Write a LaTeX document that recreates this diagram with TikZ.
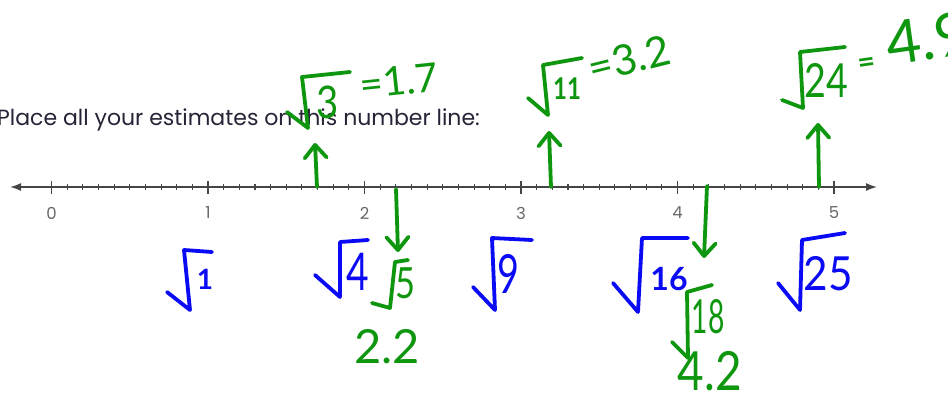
\documentclass[tikz,border=0pt]{standalone}
\usepackage{fontspec}
\setmainfont{Poppins}
\newfontfamily\handfont{Lato}
\usetikzlibrary{arrows.meta}
\definecolor{pen}{RGB}{15,150,15}
\definecolor{ink}{RGB}{10,10,245}
\definecolor{lineg}{RGB}{70,70,70}
\definecolor{labg}{RGB}{105,105,105}
\definecolor{txt}{RGB}{40,35,55}
\begin{document}
\begin{tikzpicture}[x=1pt,y=-1pt,
  axis/.style={draw=lineg,line width=1.6pt},
  majortick/.style={draw=lineg,line width=1.5pt},
  minortick/.style={draw=lineg,line width=1.1pt},
  axlabel/.style={text=labg,inner sep=0pt,font=\fontsize{16.5}{16.5}\selectfont},
  hw/.style={line width=3.8pt,line cap=round,line join=round},
  gpen/.style={hw,draw=pen},
  bpen/.style={hw,draw=ink},
  gtxt/.style={text=pen,inner sep=0pt},
  btxt/.style={text=ink,inner sep=0pt},
  hsize/.style={font=\handfont\bfseries\fontsize{#1}{#1}\selectfont},
  hsizer/.style={font=\handfont\fontsize{#1}{#1}\selectfont},
  garrow/.style={gpen,-{Straight Barb[length=13pt,width=22pt,round]}}
]
\useasboundingbox (0,0) rectangle (948,394);
\fill[white] (0,0) rectangle (948,394);

% heading
\node[anchor=base west,inner sep=0pt,text=txt,font=\fontsize{22}{22}\selectfont] (title) at (-3,125) {Place all your estimates on this number line:};

% number line
\coordinate (lend) at (10,187);
\coordinate (rend) at (877,187);
\draw[axis,{Latex[length=11pt,width=8pt]}-{Latex[length=11pt,width=8pt]}] (lend) -- (rend);
\foreach \i in {1,...,49}{
  \draw[minortick] ({51.5+15.65*\i},184) -- ({51.5+15.65*\i},190);
}
\foreach \k in {0,...,5}{
  \draw[majortick] ({51.5+156.5*\k},181) -- ({51.5+156.5*\k},194);
  \node[axlabel] (n\k) at ({51.5+156.5*\k},213) {\k};
}

% blue radicals
\draw[bpen] (167,292) -- (190,310) -- (184,250) -- (212,252);
\node[btxt,hsize=28] (b1) at (205,279) {1};
\draw[bpen] (315,275) -- (340,297) -- (340,242) -- (368,240);
\node[btxt,hsizer=52,xscale=0.75] (b4) at (358,272) {4};
\draw[bpen] (473,287) -- (495,310) -- (492,238) -- (532,240);
\node[btxt,hsizer=54,xscale=0.7] (b9) at (508,274) {9};
\draw[bpen] (613,283) -- (638,312) -- (642,238) -- (688,238);
\node[btxt,hsize=32] (b16) at (669,279) {16};
\draw[bpen] (778,283) -- (800,310) -- (802,240) -- (845,233);
\node[btxt,hsizer=47,xscale=0.9] (b25) at (828,274) {25};

% green arrows
\coordinate (a1s) at (317,187); \coordinate (a1e) at (315,143);
\coordinate (a2s) at (396,189); \coordinate (a2e) at (398,252);
\coordinate (a3s) at (551,187); \coordinate (a3e) at (549,131);
\coordinate (a4s) at (707,186); \coordinate (a4e) at (704,258);
\coordinate (a5s) at (819,187); \coordinate (a5e) at (818,123);
\draw[garrow] (a1s) -- (a1e);
\draw[garrow] (a2s) -- (a2e);
\draw[garrow] (a3s) -- (a3e);
\draw[garrow] (a4s) -- (a4e);
\draw[garrow] (a5s) -- (a5e);

% green: sqrt 3 = 1.7
\draw[gpen] (287,112) -- (308,128) -- (302,77) -- (350,72);
\node[gtxt,hsizer=45,xscale=0.85] (g3) at (328,102) {3};
\node[gtxt,hsizer=40,rotate=6] (g17) at (399,81) {=1.7};

% green: sqrt 11 = 3.2
\draw[gpen] (528,98) -- (548,115) -- (543,65) -- (582,58);
\node[gtxt,hsize=30,xscale=0.8] (g11) at (567,89) {11};
\node[gtxt,hsizer=42,rotate=14] (g32) at (629,59) {=3.2};

% green: sqrt 24 = 4.9
\draw[gpen] (782,100) -- (803,108) -- (800,52) -- (845,47);
\node[gtxt,hsizer=47,xscale=0.8] (g24) at (826,80) {24};
\node[gtxt,hsize=30,rotate=8] (geq) at (867,65) {=};
\node[gtxt,hsizer=60,rotate=8,anchor=west] (g49) at (886,44) {4.9};

% green: sqrt 5, 2.2
\draw[gpen] (372,303) -- (390,308) -- (395,262) -- (408,260);
\node[gtxt,hsizer=43,xscale=0.8] (g5) at (405,283) {5};
\node[gtxt,hsizer=47] (g22) at (387,347) {2.2};

% green: sqrt 18, 4.2
\draw[gpen] (672,342) -- (688,358) -- (687,292) -- (712,285);
\node[gtxt,hsizer=47,xscale=0.6] (g18) at (708,317) {18};
\node[gtxt,hsizer=54,xscale=0.85] (g42) at (710,371) {4.2};
\end{tikzpicture}
\end{document}
